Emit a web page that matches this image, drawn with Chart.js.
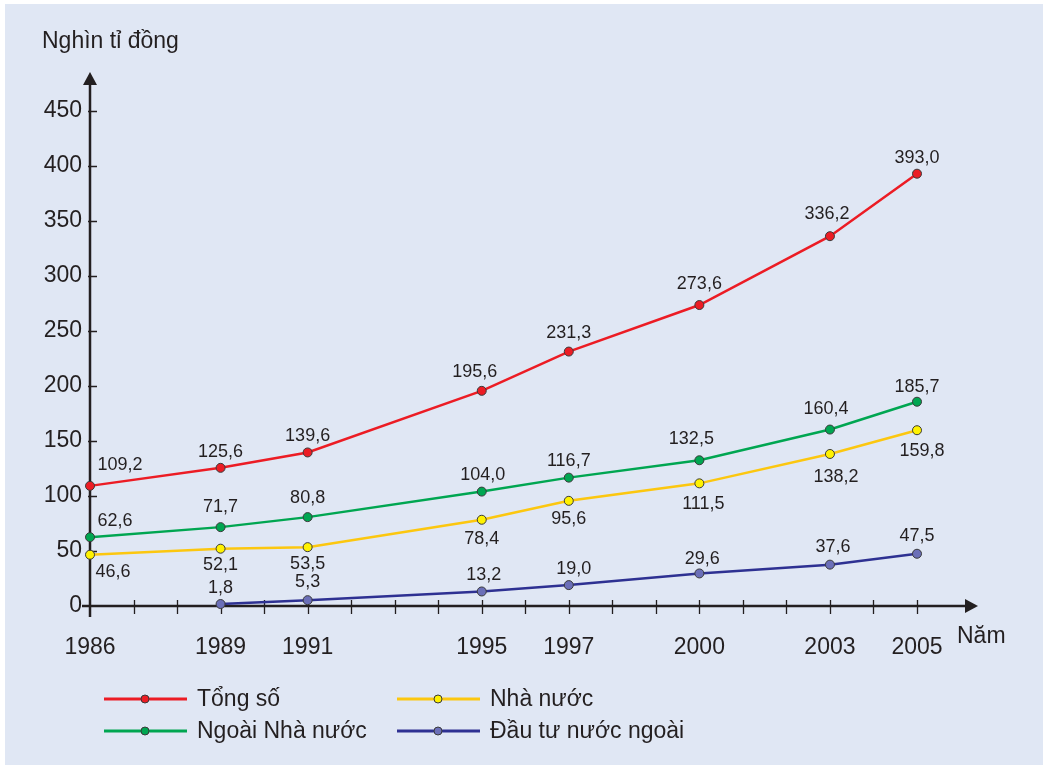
<!DOCTYPE html>
<html lang="vi">
<head>
<meta charset="utf-8">
<title>Vốn đầu tư</title>
<script src="https://cdn.jsdelivr.net/npm/chart.js@4/dist/chart.umd.min.js"></script>
<style>
  html, body { margin: 0; padding: 0; background: #ffffff; }
  #wrap { width: 1043px; height: 765px; position: relative; }
</style>
</head>
<body>
<div id="wrap"><canvas id="chart" width="1043" height="765"></canvas></div>
<script>
const years = [1986, 1989, 1991, 1995, 1997, 2000, 2003, 2005];
const tongSo = [109.2, 125.6, 139.6, 195.6, 231.3, 273.6, 336.2, 393.0];
const ngoaiNhaNuoc = [62.6, 71.7, 80.8, 104.0, 116.7, 132.5, 160.4, 185.7];
const nhaNuoc = [46.6, 52.1, 53.5, 78.4, 95.6, 111.5, 138.2, 159.8];
const dauTuNuocNgoai = [null, 1.8, 5.3, 13.2, 19.0, 29.6, 37.6, 47.5];
const yTicks = [0, 50, 100, 150, 200, 250, 300, 350, 400, 450];
const seriesNames = ["Tổng số", "Ngoài Nhà nước", "Nhà nước", "Đầu tư nước ngoài"];

const font = '"Liberation Sans", Arial, Helvetica, sans-serif';
const ink = "#231f20";

// label offsets per series (dx, dy), first point of each series sits right of the axis
const labelOffsets = [
  [[30, -21], [0, -16], [0, -16], [-7, -19], [0, -19], [0, -21], [-3, -22], [0, -16]],
  [[25, -16], [0, -20], [0, -19], [1, -17], [0, -17], [-8, -21], [-4, -21], [0, -15]],
  [[23, 17], [0, 16], [0, 17], [0, 19], [0, 18], [4, 21], [6, 23], [5, 21]],
  [null, [0, -16], [0, -18], [2, -16], [5, -16], [3, -14], [3, -18], [0, -18]],
];

const toPoints = (vals) => years.map((x, i) => ({ x, y: vals[i] }));
const fmt = (v) => v.toFixed(1).replace(".", ",");

const lineStyle = (label, values, line, fill) => ({
  label,
  data: toPoints(values),
  borderColor: line,
  backgroundColor: fill,
  pointBackgroundColor: fill,
  pointBorderColor: "#3a3a3a",
  pointBorderWidth: 1,
  pointRadius: 4.5,
  borderWidth: 2.5,
  tension: 0,
  spanGaps: false,
  clip: false,
});

const frame = {
  id: "frame",
  beforeDraw(chart) {
    const { ctx, width, height } = chart;
    ctx.save();
    ctx.fillStyle = "#ffffff";
    ctx.fillRect(0, 0, width, height);
    ctx.fillStyle = "#e0e7f4";
    ctx.fillRect(5, 4, width - 5, height - 4);
    ctx.restore();
  },
  beforeDatasetsDraw(chart) {
    const { ctx, chartArea } = chart;
    const xs = chart.scales.x;
    const ys = chart.scales.y;
    const x0 = xs.getPixelForValue(years[0]);
    const y0 = ys.getPixelForValue(0);
    const yTop = chartArea.top - 39;
    const xEnd = chartArea.right + 61;
    ctx.save();
    ctx.strokeStyle = ink;
    ctx.fillStyle = ink;
    ctx.lineWidth = 2.5;
    ctx.beginPath();
    ctx.moveTo(x0, y0 + 11);
    ctx.lineTo(x0, yTop + 10);
    ctx.moveTo(x0 - 8, y0);
    ctx.lineTo(xEnd - 10, y0);
    ctx.stroke();
    ctx.beginPath();
    ctx.moveTo(x0, yTop);
    ctx.lineTo(x0 - 7, yTop + 13);
    ctx.lineTo(x0 + 7, yTop + 13);
    ctx.closePath();
    ctx.fill();
    ctx.beginPath();
    ctx.moveTo(xEnd, y0);
    ctx.lineTo(xEnd - 13, y0 - 7);
    ctx.lineTo(xEnd - 13, y0 + 7);
    ctx.closePath();
    ctx.fill();
    ctx.lineWidth = 1.3;
    ctx.beginPath();
    for (let yr = years[0] + 1; yr <= years[years.length - 1]; yr++) {
      const px = Math.round(xs.getPixelForValue(yr)) + 0.5;
      ctx.moveTo(px, y0 - 6);
      ctx.lineTo(px, y0 + 8);
    }
    yTicks.slice(1).forEach((v) => {
      const py = Math.round(ys.getPixelForValue(v)) + 0.5;
      ctx.moveTo(x0 - 2, py);
      ctx.lineTo(x0 + 7, py);
    });
    ctx.stroke();

    ctx.font = `23px ${font}`;
    ctx.textBaseline = "alphabetic";
    ctx.textAlign = "left";
    ctx.fillText("Nghìn tỉ đồng", 42, 48);
    ctx.fillText("Năm", 957, 643);
    ctx.restore();
  },
  afterDatasetsDraw(chart) {
    const { ctx } = chart;
    ctx.save();
    ctx.font = `18px ${font}`;
    ctx.fillStyle = ink;
    ctx.textAlign = "center";
    ctx.textBaseline = "middle";
    chart.data.datasets.forEach((ds, di) => {
      const meta = chart.getDatasetMeta(di);
      meta.data.forEach((pt, i) => {
        const v = ds.data[i].y;
        const off = labelOffsets[di][i];
        if (v == null || !off) return;
        ctx.fillText(fmt(v), pt.x + off[0], pt.y + off[1]);
      });
    });
    ctx.restore();
  },
  afterDraw(chart) {
    const { ctx } = chart;
    const slots = [
      { x: 104, y: 699 },
      { x: 104, y: 731 },
      { x: 397, y: 699 },
      { x: 397, y: 731 },
    ];
    ctx.save();
    ctx.font = `23px ${font}`;
    ctx.textAlign = "left";
    ctx.textBaseline = "alphabetic";
    chart.data.datasets.forEach((ds, di) => {
      const s = slots[di];
      ctx.strokeStyle = ds.borderColor;
      ctx.lineWidth = 3;
      ctx.beginPath();
      ctx.moveTo(s.x, s.y);
      ctx.lineTo(s.x + 83, s.y);
      ctx.stroke();
      ctx.beginPath();
      ctx.arc(s.x + 41, s.y, 4, 0, Math.PI * 2);
      ctx.fillStyle = ds.pointBackgroundColor;
      ctx.fill();
      ctx.lineWidth = 1;
      ctx.strokeStyle = "#3a3a3a";
      ctx.stroke();
      ctx.fillStyle = ink;
      ctx.fillText(ds.label, s.x + 93, s.y + 7);
    });
    ctx.restore();
  },
};

new Chart(document.getElementById("chart"), {
  type: "line",
  data: {
    datasets: [
      lineStyle(seriesNames[0], tongSo, "#ec1c24", "#ec1c24"),
      lineStyle(seriesNames[1], ngoaiNhaNuoc, "#00a651", "#00a651"),
      lineStyle(seriesNames[2], nhaNuoc, "#fcc70f", "#fff200"),
      lineStyle(seriesNames[3], dauTuNuocNgoai, "#2e3192", "#6b6fb8"),
    ],
  },
  options: {
    responsive: false,
    animation: false,
    devicePixelRatio: 1,
    layout: { padding: { left: 0, top: 111, right: 126, bottom: 0 } },
    plugins: { legend: { display: false }, tooltip: { enabled: false } },
    scales: {
      x: {
        type: "linear",
        min: years[0],
        max: years[years.length - 1],
        grid: { display: false, drawTicks: false },
        border: { display: false },
        afterBuildTicks: (scale) => {
          scale.ticks = years.map((value) => ({ value }));
        },
        afterFit: (scale) => {
          scale.height = 159;
        },
        ticks: {
          autoSkip: false,
          maxRotation: 0,
          padding: 28,
          color: ink,
          font: { family: font, size: 23 },
          callback: (v) => String(v),
        },
      },
      y: {
        min: 0,
        max: yTicks[yTicks.length - 1],
        grid: { display: false, drawTicks: false },
        border: { display: false },
        afterBuildTicks: (scale) => {
          scale.ticks = yTicks.map((value) => ({ value }));
        },
        afterFit: (scale) => {
          scale.width = 90;
        },
        ticks: {
          padding: 8,
          color: ink,
          font: { family: font, size: 23 },
        },
      },
    },
  },
  plugins: [frame],
});
</script>
</body>
</html>
